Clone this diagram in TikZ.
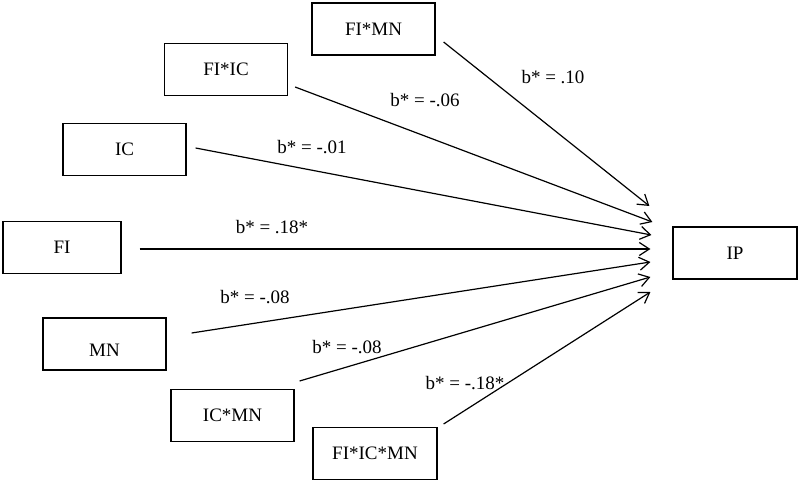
\documentclass[tikz,border=0pt]{standalone}
\usepackage{fontspec}
\setmainfont{Liberation Serif}
\usetikzlibrary{arrows.meta}
\tikzstyle{var}=[draw,line width=1.2pt,rectangle,minimum width=123pt,minimum height=52pt,inner sep=0pt]
\tikzstyle{every node}=[font=\fontsize{19}{22}\selectfont]
\tikzstyle{link}=[line width=1.2pt,-{Straight Barb[length=10pt,width=13pt,line width=1.2pt]}]
\tikzstyle{coef}=[inner sep=0pt]

\begin{document}
\begin{tikzpicture}[x=1pt,y=1pt]
  \useasboundingbox (0,0) rectangle (800,483);
  % predictors
  \node[var] (FIMN) at (373.5,454) {FI*MN};
  \node[var] (FIIC) at (226,413.5) {FI*IC};
  \node[var] (IC) at (124.5,333.5) {IC};
  \node[var, minimum width=118pt] (FI) at (62,235.5) {FI};
  \node[var] (MN) at (104.5,139) {\raisebox{-12pt}[0pt][0pt]{MN}};
  \node[var] (ICMN) at (232.5,67.5) {IC*MN};
  \node[var, minimum width=124pt] (FIICMN) at (375,29.5) {FI*IC*MN};
  % outcome
  \node[var, minimum width=124pt] (IP) at (735,230) {IP};
  % paths
  \draw[link] ([shift={(8,-13)}]FIMN.east) -- ([shift={(-23,47)}]IP.west);
  \draw[link] ([shift={(7,-17.5)}]FIIC.east) -- ([shift={(-20,31)}]IP.west);
  \draw[link] ([shift={(9,1.5)}]IC.east) -- ([shift={(-21,18)}]IP.west);
  \draw[link] ([shift={(18,-1.5)}]FI.east) -- ([shift={(-22,4)}]IP.west);
  \draw[link] ([shift={(25,11)}]MN.east) -- ([shift={(-22,-9)}]IP.west);
  \draw[link] ([shift={(5,34.5)}]ICMN.east) -- ([shift={(-22,-24)}]IP.west);
  \draw[link] ([shift={(6,29.5)}]FIICMN.east) -- ([shift={(-22,-39)}]IP.west);
  % coefficients
  \node[coef] (bFIMN) at (553,406) {b* = .10};
  \node[coef] (bFIIC) at (425,383) {b* = -.06};
  \node[coef] (bIC) at (312,336) {b* = -.01};
  \node[coef] (bFI) at (272,256) {b* = .18*};
  \node[coef] (bMN) at (255,186) {b* = -.08};
  \node[coef] (bICMN) at (347,136) {b* = -.08};
  \node[coef] (bFIICMN) at (465,100) {b* = -.18*};
\end{tikzpicture}
\end{document}
